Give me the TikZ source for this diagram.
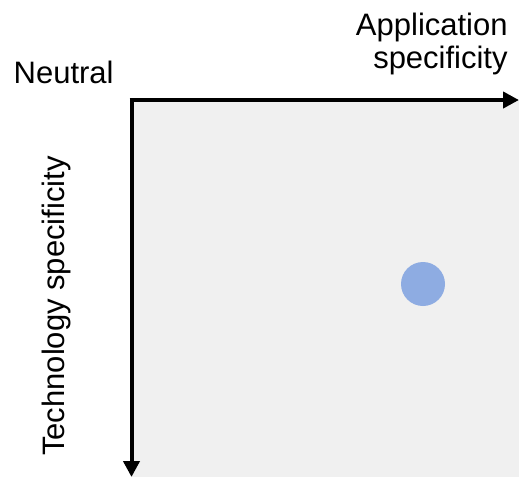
\documentclass[tikz,border=0pt]{standalone}
\usepackage{fontspec}
\setsansfont{Liberation Sans}
\usetikzlibrary{arrows.meta}
\usetikzlibrary{positioning}
\tikzset{every picture/.style={/utils/exec={\sffamily}, line width=0.75pt}}

\definecolor{panelgray}{RGB}{240,240,240}
\definecolor{dotblue}{RGB}{142,172,226}

\begin{document}
\begin{tikzpicture}[x=1pt,y=1pt,yscale=-1,xscale=1]

     \tikzstyle{label} = [inner sep=0pt,
						font=\fontsize{31}{33}\selectfont,
						text=black
						]
     \tikzstyle{axis} = [line width=4pt,-{Triangle[width=16pt,length=16pt]}]
     \tikzstyle{dot} = [circle, fill=dotblue, inner sep=0pt, minimum size=44pt]

\useasboundingbox (0,0) rectangle (519,477);

\coordinate (origin) at (131.5,100);
\coordinate (xend) at (519,100);
\coordinate (yend) at (131.5,477);

\fill[panelgray] (origin) rectangle (519,477);

\node [dot] (p1) at (423,284) {};

\node [label, anchor=base east] (neutral) at (114,83) {Neutral};
\node [label, anchor=base east, align=right] (appl) at (508,68) {Application\\specificity};
\node [label, anchor=base, rotate=90] (tech) at (64,306) {Technology specificity};

\draw[axis] ([xshift=-2pt]origin) -- (xend);
\draw[axis] (origin) -- (yend);

\end{tikzpicture}
\end{document}
